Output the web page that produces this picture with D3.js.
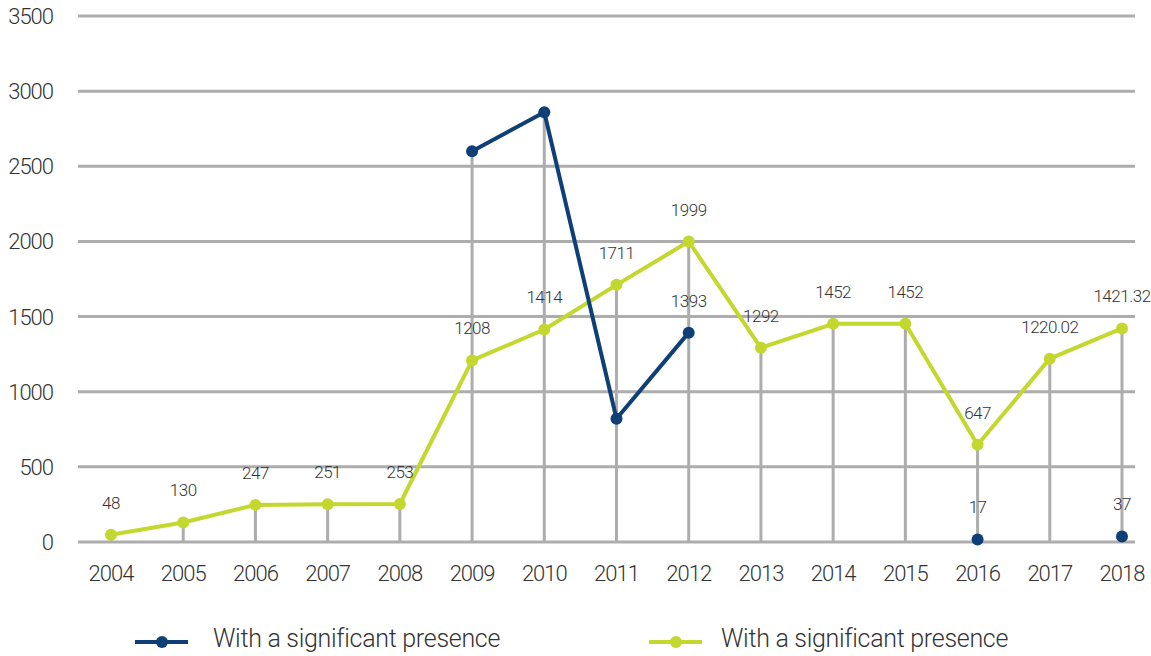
<!DOCTYPE html>
<html>
<head>
<meta charset="utf-8">
<script src="https://cdn.jsdelivr.net/npm/d3@7"></script>
<style>
  html, body { margin: 0; padding: 0; background: #fff; }
  svg { display: block; }
  text { font-family: Roboto, "Noto Sans", sans-serif; font-weight: 300; fill: #333; }
</style>
</head>
<body>
<svg id="chart" width="1151" height="656"></svg>
<script>
// Years on the x axis
const years = [2004, 2005, 2006, 2007, 2008, 2009, 2010, 2011, 2012, 2013, 2014, 2015, 2016, 2017, 2018];

// Series values (null = no value for that year)
const greenValues = [48, 130, 247, 251, 253, 1208, 1414, 1711, 1999, 1292, 1452, 1452, 647, 1220.02, 1421.32];
const blueValues  = [null, null, null, null, null, 2600, 2860, 820, 1393, null, null, null, 17, null, 37];

// Which blue points carry a value label
const blueLabelYears = [2012, 2016, 2018];

// Y axis ticks
const yTicks = [0, 500, 1000, 1500, 2000, 2500, 3000, 3500];

// Legend entries
const legendLabels = ["With a significant presence", "With a significant presence"];

const GREEN = "#c3d82e";
const BLUE = "#0f3f77";
const GRID = "#adadad";

const svg = d3.select("#chart");

const x = d3.scalePoint().domain(years).range([111, 1122]);
const y = d3.scaleLinear().domain([0, 3500]).range([542, 16]);

// Horizontal grid lines
svg.append("g").selectAll("line").data(yTicks).join("line")
  .attr("x1", 78).attr("x2", 1135)
  .attr("y1", d => y(d)).attr("y2", d => y(d))
  .attr("stroke", GRID).attr("stroke-width", 3);

// Y tick labels
svg.append("g").selectAll("text").data(yTicks).join("text")
  .attr("x", 53).attr("y", d => y(d) + 8)
  .attr("text-anchor", "end")
  .style("font-size", "22px").style("letter-spacing", "-1px")
  .text(d => d);

// Vertical drop lines from the axis to the highest value of each year
svg.append("g").selectAll("line").data(years).join("line")
  .attr("x1", d => x(d)).attr("x2", d => x(d))
  .attr("y1", y(0))
  .attr("y2", (d, i) => y(Math.max(greenValues[i] ?? 0, blueValues[i] ?? 0)))
  .attr("stroke", GRID).attr("stroke-width", 3);

// X tick labels
svg.append("g").selectAll("text").data(years).join("text")
  .attr("x", d => x(d)).attr("y", 581)
  .attr("text-anchor", "middle")
  .style("font-size", "22px").style("letter-spacing", "-1px")
  .text(d => d);

const line = d3.line()
  .defined(d => d.v != null)
  .x(d => x(d.year)).y(d => y(d.v));

const greenData = years.map((yr, i) => ({ year: yr, v: greenValues[i] }));
const blueData = years.map((yr, i) => ({ year: yr, v: blueValues[i] }));

// Green series
svg.append("path").datum(greenData)
  .attr("d", line).attr("fill", "none")
  .attr("stroke", GREEN).attr("stroke-width", 4).attr("stroke-linejoin", "round");
svg.append("g").selectAll("circle").data(greenData).join("circle")
  .attr("cx", d => x(d.year)).attr("cy", d => y(d.v)).attr("r", 6)
  .attr("fill", GREEN);

// Blue series
svg.append("path").datum(blueData)
  .attr("d", line).attr("fill", "none")
  .attr("stroke", BLUE).attr("stroke-width", 4).attr("stroke-linejoin", "round");
svg.append("g").selectAll("circle").data(blueData.filter(d => d.v != null)).join("circle")
  .attr("cx", d => x(d.year)).attr("cy", d => y(d.v)).attr("r", 6)
  .attr("fill", BLUE);

// Value labels
const labelData = greenData.concat(blueData.filter(d => blueLabelYears.includes(d.year)));
svg.append("g").selectAll("text").data(labelData).join("text")
  .attr("x", d => x(d.year)).attr("y", d => y(d.v) - 26)
  .attr("text-anchor", "middle")
  .style("font-size", "17px").style("letter-spacing", "-0.5px")
  .text(d => d.v);

// Legend
const legend = svg.append("g");
const legendItems = [
  { color: BLUE, x0: 135, tx: 213, label: legendLabels[0] },
  { color: GREEN, x0: 649, tx: 721, label: legendLabels[1] }
];
legendItems.forEach(it => {
  legend.append("line")
    .attr("x1", it.x0).attr("x2", it.x0 + 53)
    .attr("y1", 642).attr("y2", 642)
    .attr("stroke", it.color).attr("stroke-width", 4);
  legend.append("circle")
    .attr("cx", it.x0 + 27).attr("cy", 642).attr("r", 6)
    .attr("fill", it.color);
  legend.append("text")
    .attr("x", it.tx).attr("y", 647)
    .style("font-size", "25px").style("letter-spacing", "-0.3px")
    .text(it.label);
});
</script>
</body>
</html>
